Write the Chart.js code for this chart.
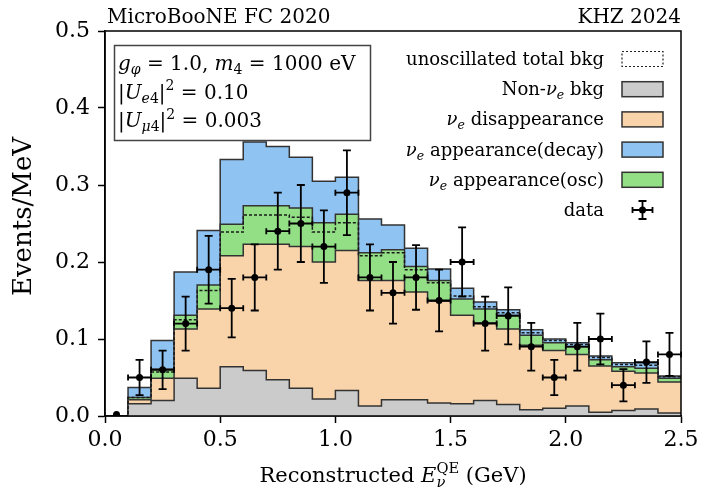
<!DOCTYPE html>
<html>
<head>
<meta charset="utf-8">
<script src="https://cdn.jsdelivr.net/npm/chart.js@4.4.0/dist/chart.umd.min.js"></script>
<style>
  html, body { margin: 0; padding: 0; background: #fff; }
  #wrap { width: 712px; height: 498px; position: relative; }
</style>
</head>
<body>
<div id="wrap"><canvas id="myChart"></canvas></div>
<script>
// bins ---------------------------------------------------------------
const binEdges = [0.0, 0.1, 0.2, 0.3, 0.4, 0.5, 0.6, 0.7, 0.8, 0.9, 1.0, 1.1, 1.2,
  1.3, 1.4, 1.5, 1.6, 1.7, 1.8, 1.9, 2.0, 2.1, 2.2, 2.3, 2.4, 2.5];

// stacked components, events/MeV per bin
const nonNueBkg = [0, 0.016, 0.020, 0.049, 0.036, 0.064, 0.059, 0.047, 0.036, 0.022, 0.033,
  0.013, 0.021, 0.021, 0.017, 0.016, 0.020, 0.015, 0.008, 0.010, 0.013, 0.005, 0.007, 0.009, 0.004];
const nueDisapp = [0, 0.005, 0.029, 0.064, 0.103, 0.144, 0.164, 0.176, 0.184, 0.178, 0.182,
  0.163, 0.155, 0.140, 0.132, 0.115, 0.101, 0.098, 0.084, 0.075, 0.067, 0.060, 0.051, 0.047, 0.040];
const nueAppOsc = [0, 0.003, 0.012, 0.018, 0.031, 0.041, 0.050, 0.050, 0.050, 0.051, 0.047,
  0.036, 0.040, 0.033, 0.027, 0.021, 0.018, 0.018, 0.013, 0.010, 0.010, 0.008, 0.006, 0.006, 0.005];
const nueAppDecay = [0, 0.013, 0.037, 0.056, 0.071, 0.084, 0.083, 0.077, 0.066, 0.054, 0.048,
  0.044, 0.032, 0.024, 0.015, 0.014, 0.009, 0.007, 0.007, 0.005, 0.005, 0.005, 0.005, 0.007, 0.003];
const unoscTotal = [0, 0.024, 0.057, 0.125, 0.163, 0.239, 0.261, 0.261, 0.258, 0.239, 0.251,
  0.208, 0.212, 0.190, 0.173, 0.156, 0.142, 0.134, 0.108, 0.098, 0.093, 0.076, 0.067, 0.066, 0.051];

// data points
const dataX = [0.05, 0.15, 0.25, 0.35, 0.45, 0.55, 0.65, 0.75, 0.85, 0.95, 1.05, 1.15, 1.25,
  1.35, 1.45, 1.55, 1.65, 1.75, 1.85, 1.95, 2.05, 2.15, 2.25, 2.35, 2.45];
const dataY = [0.002, 0.05, 0.06, 0.12, 0.19, 0.14, 0.18, 0.24, 0.25, 0.22, 0.29, 0.18, 0.16,
  0.18, 0.15, 0.20, 0.12, 0.13, 0.09, 0.05, 0.09, 0.10, 0.04, 0.07, 0.08];
const dataErr = [0, 0.023, 0.025, 0.035, 0.044, 0.038, 0.043, 0.05, 0.05, 0.047, 0.055, 0.043, 0.04,
  0.042, 0.04, 0.045, 0.035, 0.037, 0.031, 0.023, 0.031, 0.033, 0.021, 0.027, 0.028];
const dataXErr = 0.05;

const yTicks = [0.0, 0.1, 0.2, 0.3, 0.4, 0.5];
const xTicks = [0.0, 0.5, 1.0, 1.5, 2.0, 2.5];

// colours
const cGray = "#cbcbcb";
const cOrange = "#f9d4ab";
const cGreen = "#93df86";
const cBlue = "#8fc3f1";
const cEdge = "#333333";
const FONT = '"DejaVu Serif", "Liberation Serif", serif';

// helpers -------------------------------------------------------------
function addUp(a, b) {
  return a.map((v, i) => v + b[i]);
}
function stepPoints(vals) {
  let pts = vals.map((v, i) => ({ x: binEdges[i], y: v }));
  pts.push({ x: binEdges[binEdges.length - 1], y: vals[vals.length - 1] });
  return pts;
}

const topGray = nonNueBkg;
const topOrange = addUp(topGray, nueDisapp);
const topGreen = addUp(topOrange, nueAppOsc);
const topBlue = addUp(topGreen, nueAppDecay);

function histSet(label, vals, color, order) {
  return {
    label: label,
    data: stepPoints(vals),
    stepped: true,
    fill: "origin",
    backgroundColor: color,
    borderColor: cEdge,
    borderWidth: 1.5,
    pointRadius: 0,
    order: order,
  };
}

// rich text (sub/superscripts) -----------------------------------------
function fontFor(italic, small, size) {
  return (italic ? "italic " : "") + (small ? size * 0.7 : size) + "px " + FONT;
}
function partWidth(ctx, p, size) {
  ctx.font = fontFor(p.i, p.s, size);
  let w = ctx.measureText(p.t).width;
  if (p.sup) {
    ctx.font = fontFor(false, true, size);
    w = Math.max(w, ctx.measureText(p.sup).width);
  }
  return w;
}
function drawRich(ctx, parts, x, y, size, align) {
  ctx.textAlign = "left";
  ctx.textBaseline = "alphabetic";
  let w = 0;
  parts.forEach((p) => { w += partWidth(ctx, p, size); });
  let cx = align === "right" ? x - w : align === "center" ? x - w / 2 : x;
  parts.forEach((p) => {
    let pw = partWidth(ctx, p, size);
    ctx.font = fontFor(p.i, p.s, size);
    let dy = p.s === "sub" ? size * 0.22 : p.s === "sup" ? -size * 0.42 : 0;
    ctx.fillText(p.t, cx, y + dy);
    if (p.sup) {
      ctx.font = fontFor(false, true, size);
      ctx.fillText(p.sup, cx, y - size * 0.45);
    }
    cx += pw;
  });
}

const nuE = [{ t: "ν", i: 1 }, { t: "e", i: 1, s: "sub" }];
const legendItems = [
  { kind: "dash", parts: [{ t: "unoscillated total bkg" }] },
  { kind: "fill", color: cGray, parts: [{ t: "Non-" }].concat(nuE, [{ t: " bkg" }]) },
  { kind: "fill", color: cOrange, parts: nuE.concat([{ t: " disappearance" }]) },
  { kind: "fill", color: cBlue, parts: nuE.concat([{ t: " appearance(decay)" }]) },
  { kind: "fill", color: cGreen, parts: nuE.concat([{ t: " appearance(osc)" }]) },
  { kind: "data", parts: [{ t: "data" }] },
];
const boxLines = [
  [{ t: "g", i: 1 }, { t: "φ", i: 1, s: "sub" }, { t: " = 1.0, " }, { t: "m", i: 1 },
    { t: "4", s: "sub" }, { t: " = 1000 eV" }],
  [{ t: "|" }, { t: "U", i: 1 }, { t: "e", i: 1, s: "sub" }, { t: "4", s: "sub" }, { t: "|" },
    { t: "2", s: "sup" }, { t: " = 0.10" }],
  [{ t: "|" }, { t: "U", i: 1 }, { t: "μ", i: 1, s: "sub" }, { t: "4", s: "sub" }, { t: "|" },
    { t: "2", s: "sup" }, { t: " = 0.003" }],
];

function drawCross(ctx, px, py, hx, hy) {
  ctx.beginPath();
  ctx.moveTo(px, py - hy); ctx.lineTo(px, py + hy);
  ctx.moveTo(px - 4, py - hy); ctx.lineTo(px + 4, py - hy);
  ctx.moveTo(px - 4, py + hy); ctx.lineTo(px + 4, py + hy);
  ctx.moveTo(px - hx, py); ctx.lineTo(px + hx, py);
  ctx.moveTo(px - hx, py - 3); ctx.lineTo(px - hx, py + 3);
  ctx.moveTo(px + hx, py - 3); ctx.lineTo(px + hx, py + 3);
  ctx.stroke();
}

// plugins -----------------------------------------------------------
const errorBars = {
  id: "errorBars",
  afterDatasetsDraw(chart) {
    const ctx = chart.ctx;
    const xs = chart.scales.x, ys = chart.scales.y;
    ctx.save();
    ctx.strokeStyle = "#000";
    ctx.lineWidth = 1.8;
    dataX.forEach((x, i) => {
      if (dataErr[i] <= 0) return;
      let px = xs.getPixelForValue(x);
      let py = ys.getPixelForValue(dataY[i]);
      let hx = xs.getPixelForValue(x + dataXErr) - px;
      let hy = py - ys.getPixelForValue(dataY[i] + dataErr[i]);
      drawCross(ctx, px, py, hx, hy);
    });
    ctx.restore();
  },
};

const decor = {
  id: "decor",
  afterDraw(chart) {
    const ctx = chart.ctx;
    const a = chart.chartArea;
    ctx.save();
    // frame
    ctx.strokeStyle = "#000";
    ctx.lineWidth = 1.5;
    ctx.strokeRect(a.left, a.top, a.right - a.left, a.bottom - a.top);

    ctx.fillStyle = "#000";
    // top labels
    drawRich(ctx, [{ t: "MicroBooNE FC 2020" }], a.left + 2, a.top - 8, 20, "left");
    drawRich(ctx, [{ t: "KHZ 2024" }], a.right, a.top - 8, 20, "right");

    // axis titles
    drawRich(ctx, [{ t: "Reconstructed " }, { t: "E", i: 1 }, { t: "ν", i: 1, s: "sub", sup: "QE" },
      { t: " (GeV)" }], (a.left + a.right) / 2, a.bottom + 66, 21, "center");
    ctx.save();
    ctx.translate(31, (a.top + a.bottom) / 2 - 7);
    ctx.rotate(-Math.PI / 2);
    drawRich(ctx, [{ t: "Events/MeV" }], 0, 0, 26, "center");
    ctx.restore();

    // parameter box
    ctx.fillStyle = "#fff";
    ctx.fillRect(114, 45, 256, 95);
    ctx.strokeStyle = "#444";
    ctx.lineWidth = 1.5;
    ctx.strokeRect(114.5, 45.5, 256, 95);
    ctx.fillStyle = "#000";
    boxLines.forEach((ln, i) => drawRich(ctx, ln, 118, 70 + i * 28.5, 20, "left"));

    // legend
    const textRight = a.right - 77;
    const swL = a.right - 59, swW = 41, swH = 15;
    legendItems.forEach((it, i) => {
      let cy = a.top + 28 + i * 30.2;
      ctx.fillStyle = "#000";
      drawRich(ctx, it.parts, textRight, cy + 6, 18, "right");
      if (it.kind === "fill") {
        ctx.fillStyle = it.color;
        ctx.fillRect(swL, cy - swH / 2, swW, swH);
        ctx.strokeStyle = cEdge;
        ctx.lineWidth = 1.5;
        ctx.setLineDash([]);
        ctx.strokeRect(swL, cy - swH / 2, swW, swH);
      } else if (it.kind === "dash") {
        ctx.strokeStyle = "#222";
        ctx.lineWidth = 1.2;
        ctx.setLineDash([2, 2]);
        ctx.strokeRect(swL, cy - swH / 2, swW, swH);
        ctx.setLineDash([]);
      } else {
        ctx.strokeStyle = "#000";
        ctx.lineWidth = 1.8;
        drawCross(ctx, swL + swW / 2, cy, 10, 9);
        ctx.fillStyle = "#000";
        ctx.beginPath();
        ctx.arc(swL + swW / 2, cy, 3.5, 0, Math.PI * 2);
        ctx.fill();
      }
    });
    ctx.restore();
  },
};

// chart -------------------------------------------------------------
const ctx = document.getElementById("myChart").getContext("2d");
const myChart = new Chart(ctx, {
  type: "line",
  data: {
    datasets: [
      {
        label: "data",
        data: dataX.map((x, i) => ({ x: x, y: dataY[i] })),
        showLine: false,
        pointRadius: 3.5,
        pointBackgroundColor: "#000",
        pointBorderColor: "#000",
        pointBorderWidth: 0,
        order: 0,
      },
      {
        label: "unoscillated total bkg",
        data: stepPoints(unoscTotal),
        stepped: true,
        fill: false,
        borderColor: "#1a1a1a",
        borderWidth: 1.5,
        borderDash: [3, 2],
        pointRadius: 0,
        order: 1,
      },
      histSet("Non-νe bkg", topGray, cGray, 2),
      histSet("νe disappearance", topOrange, cOrange, 3),
      histSet("νe appearance(osc)", topGreen, cGreen, 4),
      histSet("νe appearance(decay)", topBlue, cBlue, 5),
    ],
  },
  options: {
    responsive: true,
    maintainAspectRatio: false,
    animation: false,
    layout: { padding: { top: 31, right: 31, left: 0, bottom: 0 } },
    plugins: {
      legend: { display: false },
      tooltip: { enabled: false },
    },
    scales: {
      x: {
        type: "linear",
        min: 0,
        max: 2.5,
        afterFit: (s) => { s.height = 82; },
        afterBuildTicks: (s) => { s.ticks = xTicks.map((v) => ({ value: v })); },
        ticks: {
          color: "#000",
          padding: 4,
          font: { family: FONT, size: 22 },
          callback: (v) => v.toFixed(1),
          maxRotation: 0,
        },
        grid: { drawOnChartArea: false, tickLength: 7, tickColor: "#000", tickWidth: 1.5 },
        border: { color: "#000", width: 1.5 },
      },
      y: {
        min: 0,
        max: 0.5,
        afterFit: (s) => { s.width = 105; },
        afterBuildTicks: (s) => { s.ticks = yTicks.map((v) => ({ value: v })); },
        ticks: {
          color: "#000",
          padding: 8,
          font: { family: FONT, size: 22 },
          callback: (v) => v.toFixed(1),
        },
        grid: { drawOnChartArea: false, tickLength: 7, tickColor: "#000", tickWidth: 1.5 },
        border: { color: "#000", width: 1.5 },
      },
    },
  },
  plugins: [errorBars, decor],
});
</script>
</body>
</html>
